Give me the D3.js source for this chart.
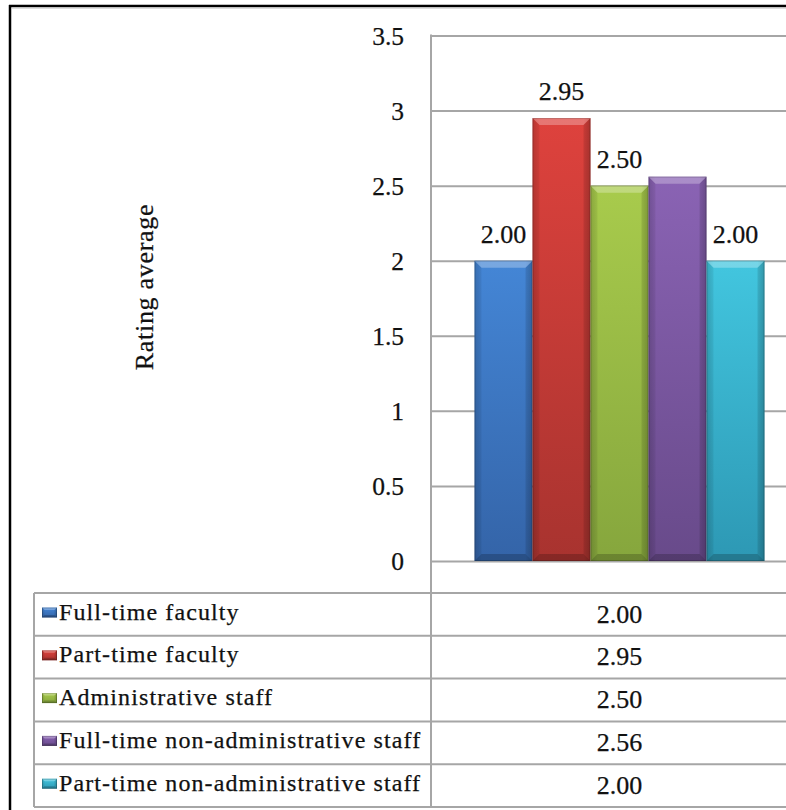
<!DOCTYPE html>
<html>
<head>
<meta charset="utf-8">
<script src="https://cdn.jsdelivr.net/npm/d3@7"></script>
<style>
  html, body { margin: 0; padding: 0; background: #fff; }
  svg { display: block; }
  text { font-family: "Liberation Serif", "Times New Roman", serif; fill: #111; stroke: #111; stroke-width: 0.25; }
</style>
</head>
<body>
<svg id="chart" width="786" height="810"></svg>
<script>
// Survey groups and their rating averages
const categories = [
  "Full-time faculty",
  "Part-time faculty",
  "Administrative staff",
  "Full-time non-administrative staff",
  "Part-time non-administrative staff"
];
const values = [2.00, 2.95, 2.50, 2.56, 2.00];
const labelShown = [true, true, true, false, true];
const tickValues = [0, 0.5, 1, 1.5, 2, 2.5, 3, 3.5];
const tickLabels = ["0", "0.5", "1", "1.5", "2", "2.5", "3", "3.5"];
const axisTitle = "Rating average";

// fill colours per series: [top, bottom]
const seriesColors = [
  ["#4486d6", "#3464a8"],
  ["#de423d", "#a8332f"],
  ["#a8cb4c", "#86a63d"],
  ["#8a63b4", "#684a8a"],
  ["#42c6df", "#2d98b4"]
];

const svg = d3.select("#chart");
const W = 786, H = 810;
svg.append("rect").attr("width", W).attr("height", H).attr("fill", "#fff");

const plot = { left: 431, right: 808, top: 35.5, bottom: 561 };
const table = { left: 34, top: 593, bottom: 807 };
const gridColor = "#a6a6a6";

const y = d3.scaleLinear().domain([0, 3.5]).range([plot.bottom, plot.top]);
const x = d3.scaleBand().domain(categories).range([plot.left, plot.right])
  .paddingInner(0).paddingOuter(0.75);
const row = d3.scaleBand().domain(categories).range([table.top, table.bottom]);

// gradients
const defs = svg.append("defs");
seriesColors.forEach((c, i) => {
  const g = defs.append("linearGradient").attr("id", "grad" + i)
    .attr("x1", 0).attr("y1", 0).attr("x2", 0).attr("y2", 1);
  g.append("stop").attr("offset", "0%").attr("stop-color", c[0]);
  g.append("stop").attr("offset", "100%").attr("stop-color", c[1]);
  const h = defs.append("linearGradient").attr("id", "side" + i)
    .attr("x1", 0).attr("y1", 0).attr("x2", 1).attr("y2", 0);
  h.append("stop").attr("offset", "0%").attr("stop-color", "#000").attr("stop-opacity", 0.12);
  h.append("stop").attr("offset", "12%").attr("stop-color", "#000").attr("stop-opacity", 0);
  h.append("stop").attr("offset", "88%").attr("stop-color", "#000").attr("stop-opacity", 0);
  h.append("stop").attr("offset", "100%").attr("stop-color", "#000").attr("stop-opacity", 0.15);
});

// outer frame
svg.append("line").attr("x1", 10).attr("x2", 10).attr("y1", 5).attr("y2", H)
  .attr("stroke", "#000").attr("stroke-width", 2.5);
svg.append("line").attr("x1", 9).attr("x2", W).attr("y1", 6).attr("y2", 6)
  .attr("stroke", "#000").attr("stroke-width", 2.5);
svg.append("line").attr("x1", 12).attr("x2", W).attr("y1", 8.5).attr("y2", 8.5)
  .attr("stroke", "#ddd").attr("stroke-width", 1);

// gridlines and tick labels
const axis = d3.axisLeft(y)
  .tickValues(tickValues)
  .tickFormat((d, i) => tickLabels[i])
  .tickSizeInner(-(plot.right - plot.left))
  .tickSizeOuter(0)
  .tickPadding(27);
const gAxis = svg.append("g").attr("transform", `translate(${plot.left},0)`).call(axis);
gAxis.select(".domain").remove();
gAxis.selectAll(".tick line").attr("stroke", gridColor).attr("stroke-width", 2);
gAxis.selectAll(".tick text")
  .attr("font-size", 25.5)
  .attr("dy", "0.34em");

// axis title
svg.append("text")
  .attr("transform", `translate(153,287) rotate(-90)`)
  .attr("text-anchor", "middle")
  .attr("font-size", 26)
  .attr("letter-spacing", 0.7)
  .text(axisTitle);

// bars with bevelled edges
function bevelBar(g, x0, x1, y0, y1, i, b) {
  g.append("rect").attr("x", x0).attr("y", y0).attr("width", x1 - x0).attr("height", y1 - y0)
    .attr("fill", `url(#grad${i})`);
  g.append("rect").attr("x", x0).attr("y", y0).attr("width", x1 - x0).attr("height", y1 - y0)
    .attr("fill", `url(#side${i})`);
  const poly = (pts, fill, op) => g.append("polygon")
    .attr("points", pts.map(p => p.join(",")).join(" "))
    .attr("fill", fill).attr("fill-opacity", op);
  poly([[x0, y0], [x1, y0], [x1 - b, y0 + b], [x0 + b, y0 + b]], "#fff", 0.28);
  poly([[x0, y1], [x1, y1], [x1 - b, y1 - b], [x0 + b, y1 - b]], "#000", 0.2);
  poly([[x0, y0], [x0 + b, y0 + b], [x0 + b, y1 - b], [x0, y1]], "#000", 0.06);
  poly([[x1, y0], [x1 - b, y0 + b], [x1 - b, y1 - b], [x1, y1]], "#000", 0.1);
  g.append("rect").attr("x", x0 + 0.5).attr("y", y0 + 0.5)
    .attr("width", x1 - x0 - 1).attr("height", y1 - y0 - 1)
    .attr("fill", "none").attr("stroke", "#000").attr("stroke-opacity", 0.18);
}

const gBars = svg.append("g");
categories.forEach((c, i) => {
  const g = gBars.append("g");
  bevelBar(g, x(c), x(c) + x.bandwidth(), y(values[i]), y(0), i, 7);
});

// value labels above bars
svg.append("g").selectAll("text")
  .data(categories.filter((c, i) => labelShown[i]))
  .join("text")
  .attr("x", c => x(c) + x.bandwidth() / 2)
  .attr("y", c => y(values[categories.indexOf(c)]) - 18)
  .attr("text-anchor", "middle")
  .attr("font-size", 26)
  .text(c => d3.format(".2f")(values[categories.indexOf(c)]));

// data table
const gT = svg.append("g");
const rowLines = categories.map(c => row(c)).concat([table.bottom]);
gT.selectAll("line.h").data(rowLines).join("line")
  .attr("x1", table.left).attr("x2", W + 30)
  .attr("y1", d => d).attr("y2", d => d)
  .attr("stroke", gridColor).attr("stroke-width", 2);
gT.append("line").attr("x1", table.left).attr("x2", table.left)
  .attr("y1", table.top).attr("y2", table.bottom)
  .attr("stroke", gridColor).attr("stroke-width", 2);
// value axis line continues down as the table divider
gT.append("line").attr("x1", plot.left).attr("x2", plot.left)
  .attr("y1", plot.top - 1).attr("y2", table.bottom)
  .attr("stroke", gridColor).attr("stroke-width", 2);

categories.forEach((c, i) => {
  const top = row(c);
  const mg = gT.append("g");
  bevelBar(mg, 42, 57, top + 14.5, top + 24.5, i, 2.5);
  gT.append("text")
    .attr("x", 59).attr("y", top + 26.5)
    .attr("font-size", 24)
    .attr("letter-spacing", 1.1)
    .text(c);
  gT.append("text")
    .attr("x", x(categories[2]) + x.bandwidth() / 2)
    .attr("y", top + 29.5)
    .attr("text-anchor", "middle")
    .attr("font-size", 26)
    .text(d3.format(".2f")(values[i]));
});
</script>
</body>
</html>
